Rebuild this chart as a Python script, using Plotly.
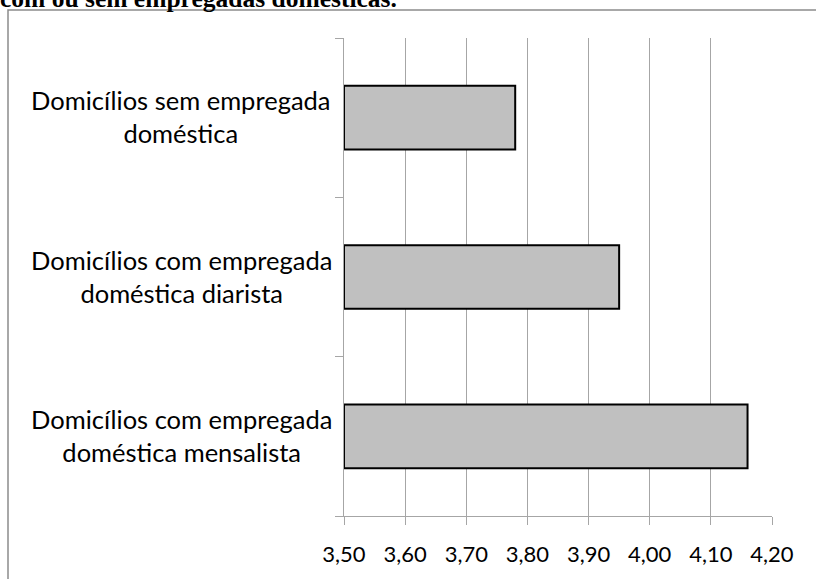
import plotly.graph_objects as go

# Mean values per household type
categories = [
    "Domicílios sem empregada doméstica",
    "Domicílios com empregada doméstica diarista",
    "Domicílios com empregada doméstica mensalista",
]
label_lines = [
    "Domicílios sem empregada<br>doméstica",
    "Domicílios com empregada<br>doméstica diarista",
    "Domicílios com empregada<br>doméstica mensalista",
]
values = [3.78, 3.95, 4.16]
x_ticks = [3.50, 3.60, 3.70, 3.80, 3.90, 4.00, 4.10, 4.20]
x_tick_text = ["3,50", "3,60", "3,70", "3,80", "3,90", "4,00", "4,10", "4,20"]
caption = "com ou sem empregadas domésticas."

W, H = 816, 579
ML, MR, MT, MB = 344, 44, 38, 61
pw, ph = W - ML - MR, H - MT - MB

grid = "#a6a6a6"
sans = "Lato, 'Open Sans', sans-serif"
label_font = dict(family=sans, size=25.5, color="#000000")
tick_font = dict(family=sans, size=22, color="#000000")

fig = go.Figure()
fig.add_trace(go.Bar(
    x=[v - x_ticks[0] for v in values],
    base=x_ticks[0],
    y=categories,
    orientation="h",
    width=0.4,
    marker=dict(color="#c0c0c0", line=dict(color="#000000", width=2)),
    hoverinfo="skip",
))

annotations = []
for cat, txt in zip(categories, label_lines):
    annotations.append(dict(
        x=0, xref="paper", y=cat, yref="y",
        xanchor="center", yanchor="middle", xshift=-163, yshift=1,
        text=txt, showarrow=False, align="center", font=label_font,
    ))

# Caption running off the top edge
annotations.append(dict(
    x=0, xref="paper", y=1, yref="paper",
    xanchor="left", yanchor="middle",
    xshift=-ML - 2, yshift=MT + 2,
    text="<b>" + caption + "</b>", showarrow=False,
    font=dict(family="'Liberation Serif', 'Times New Roman', serif", size=25.5, color="#000000"),
))

fig.update_layout(
    width=W, height=H,
    margin=dict(l=ML, r=MR, t=MT, b=MB),
    paper_bgcolor="white", plot_bgcolor="white",
    showlegend=False,
    annotations=annotations,
    shapes=[dict(
        type="rect", xref="paper", yref="paper",
        x0=(8 - ML) / pw, x1=(W + 20 - ML) / pw,
        y0=-(MB + 20) / ph, y1=1 + (MT - 10) / ph,
        line=dict(color="#8c8c8c", width=1.5), fillcolor="rgba(0,0,0,0)", layer="below",
    )],
    xaxis=dict(
        range=[3.5, 4.2], tickvals=x_ticks, ticktext=x_tick_text,
        showgrid=True, gridcolor=grid, gridwidth=1.3,
        zeroline=False, showline=True, linecolor=grid, linewidth=1.3,
        ticks="outside", ticklen=8, tickcolor=grid, tickwidth=1.3,
        tickfont=tick_font, ticklabelstandoff=10,
    ),
    yaxis=dict(
        categoryorder="array", categoryarray=categories[::-1],
        showgrid=False, zeroline=False, showline=True, linecolor=grid, linewidth=1.3,
        ticks="outside", tickson="boundaries", ticklen=8, tickcolor=grid, tickwidth=1.3,
        showticklabels=False, range=[-0.5, 2.5],
    ),
)

fig.write_html("out.html")
